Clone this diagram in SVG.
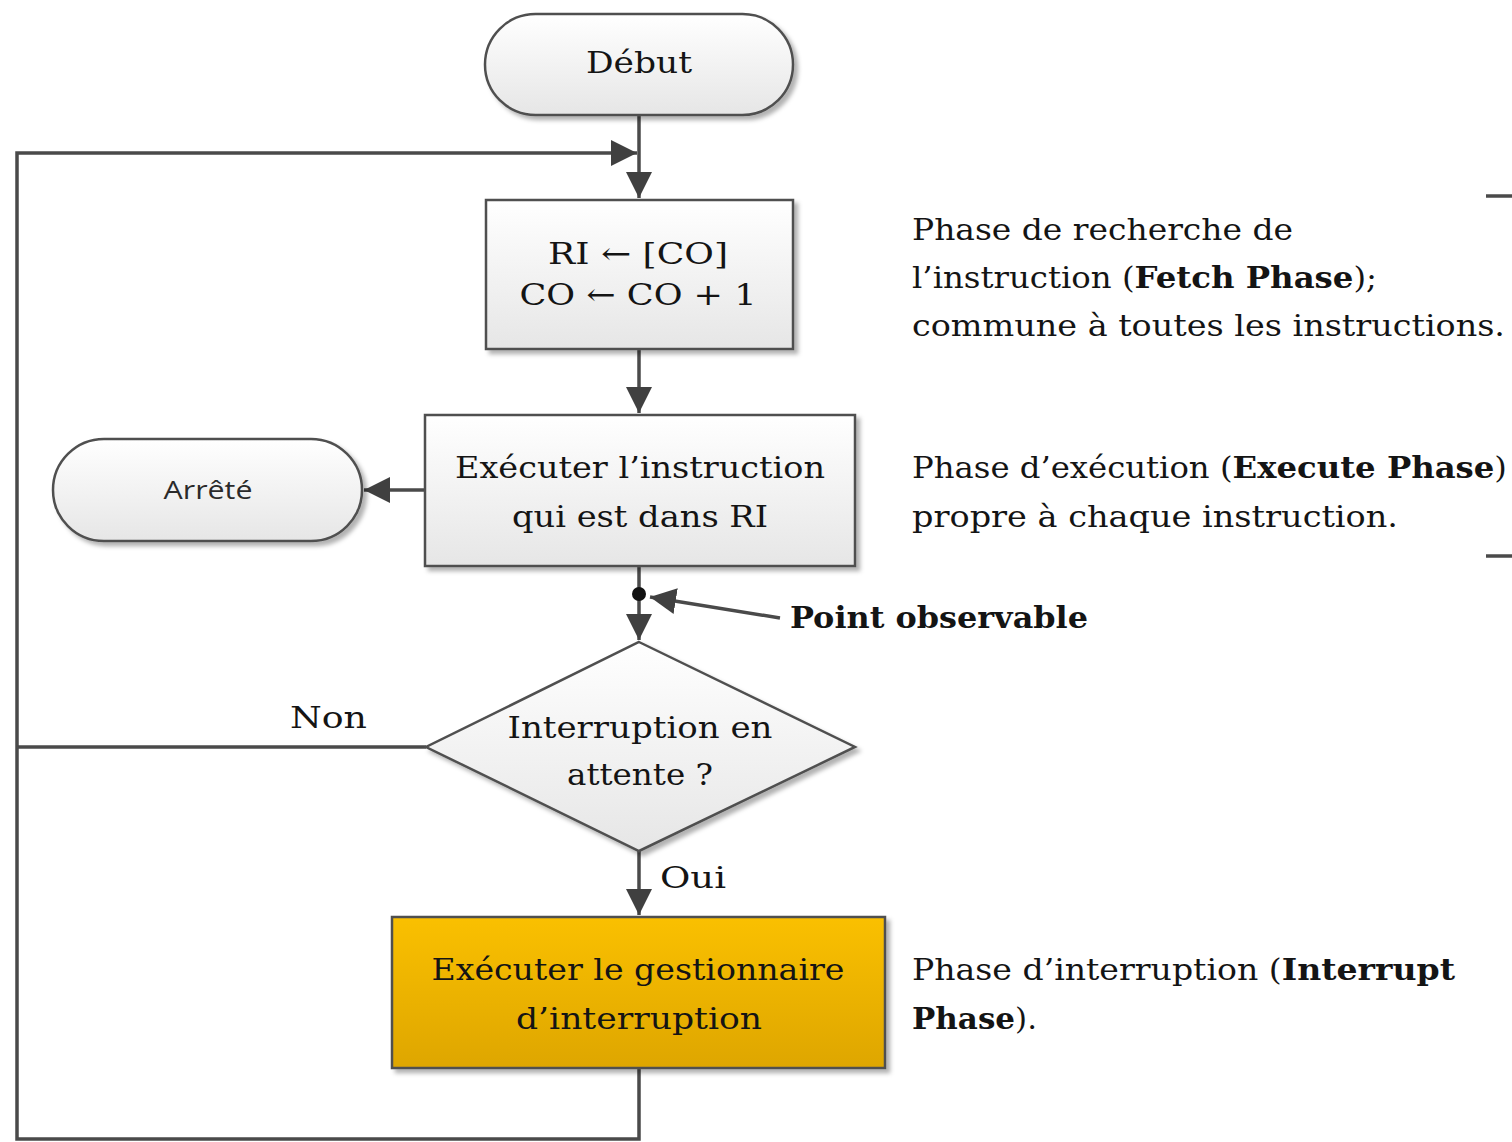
<svg xmlns="http://www.w3.org/2000/svg" width="1512" height="1142" viewBox="0 0 1512 1142">
  <defs>
    <linearGradient id="gGray" x1="0" y1="0" x2="0" y2="1">
      <stop offset="0" stop-color="#ffffff"/>
      <stop offset="1" stop-color="#e6e6e6"/>
    </linearGradient>
    <linearGradient id="gGold" x1="0" y1="0" x2="0" y2="1">
      <stop offset="0" stop-color="#fac000"/>
      <stop offset="1" stop-color="#dea600"/>
    </linearGradient>
    <filter id="shadow" x="-10%" y="-10%" width="130%" height="130%">
      <feDropShadow dx="4" dy="4" stdDeviation="2" flood-color="#000" flood-opacity="0.3"/>
    </filter>
    <marker id="arrowBig" viewBox="0 0 10 10" refX="10" refY="5" markerWidth="26" markerHeight="26" markerUnits="userSpaceOnUse" orient="auto">
      <path d="M0,0 L10,5 L0,10 z" fill="#404040"/>
    </marker>
  </defs>
  <style>
    .shape { stroke: #505050; stroke-width: 2.5; filter: url(#shadow); }
    .light { fill: url(#gGray); }
    .gold { fill: url(#gGold); }
    .conn { fill: none; stroke: #4a4a4a; stroke-width: 3.5; }
    .lbl { font-family: "DejaVu Serif", "Liberation Serif", serif; font-size: 30px; fill: #141414; }
    .ctr { text-anchor: middle; }
    .b { font-weight: bold; }
    .sans { font-family: "Open Sans", "DejaVu Sans", sans-serif; font-size: 25px; fill: #2a2a2a; }
  </style>

  <rect width="1512" height="1142" fill="#ffffff"/>

  <!-- connectors -->
  <g id="connectors">
    <path class="conn" d="M639,115 V198" marker-end="url(#arrowBig)"/>
    <path class="conn" d="M639,1068 V1139 H17 V153 H637" marker-end="url(#arrowBig)"/>
    <path class="conn" d="M639,349 V413" marker-end="url(#arrowBig)"/>
    <path class="conn" d="M425,490 H364" marker-end="url(#arrowBig)"/>
    <path class="conn" d="M639,566 V640" marker-end="url(#arrowBig)"/>
    <circle cx="639" cy="594" r="7" fill="#111"/>
    <path class="conn" d="M780,618 L650,597" marker-end="url(#arrowBig)"/>
    <path class="conn" d="M426,747 H17"/>
    <path class="conn" d="M639,851 V915" marker-end="url(#arrowBig)"/>
    <text class="lbl" x="290" y="728" textLength="77" lengthAdjust="spacingAndGlyphs">Non</text>
    <text class="lbl" x="660" y="888" textLength="66" lengthAdjust="spacingAndGlyphs">Oui</text>
  </g>

  <!-- start terminal -->
  <g id="debut">
    <rect class="shape light" x="485" y="14" width="308" height="101" rx="50.5" ry="50.5"/>
    <text class="lbl ctr" x="639" y="73" textLength="106" lengthAdjust="spacingAndGlyphs">Début</text>
  </g>

  <!-- fetch step -->
  <g id="fetch">
    <rect class="shape light" x="486" y="200" width="307" height="149"/>
    <text class="lbl ctr" x="638" y="264" textLength="180" lengthAdjust="spacingAndGlyphs">RI ← [CO]</text>
    <text class="lbl ctr" x="638" y="305" textLength="237" lengthAdjust="spacingAndGlyphs">CO ← CO + 1</text>
  </g>

  <!-- execute step -->
  <g id="execute">
    <rect class="shape light" x="425" y="415" width="430" height="151"/>
    <text class="lbl ctr" x="640" y="478" textLength="370" lengthAdjust="spacingAndGlyphs">Exécuter l’instruction</text>
    <text class="lbl ctr" x="640" y="527" textLength="256" lengthAdjust="spacingAndGlyphs">qui est dans RI</text>
  </g>

  <!-- stop terminal -->
  <g id="arrete">
    <rect class="shape light" x="53" y="439" width="309" height="102" rx="51" ry="51"/>
    <text class="sans ctr" x="208" y="499" textLength="89" lengthAdjust="spacingAndGlyphs">Arrêté</text>
  </g>

  <!-- observation point label -->
  <g id="point-observable">
    <text class="lbl b" x="790" y="628" textLength="298" lengthAdjust="spacingAndGlyphs">Point observable</text>
  </g>

  <!-- decision -->
  <g id="decision">
    <polygon class="shape light" points="639,642 855,747 639,851 426,747"/>
    <text class="lbl ctr" x="640" y="738" textLength="265" lengthAdjust="spacingAndGlyphs">Interruption en</text>
    <text class="lbl ctr" x="640" y="785" textLength="146" lengthAdjust="spacingAndGlyphs">attente ?</text>
  </g>

  <!-- interrupt handler -->
  <g id="handler">
    <rect class="shape gold" x="392" y="917" width="493" height="151"/>
    <text class="lbl ctr" x="638" y="980" textLength="413" lengthAdjust="spacingAndGlyphs">Exécuter le gestionnaire</text>
    <text class="lbl ctr" x="639" y="1029" textLength="246" lengthAdjust="spacingAndGlyphs">d’interruption</text>
  </g>

  <!-- phase annotations -->
  <g id="phase-fetch">
    <text class="lbl" x="912" y="240" textLength="381" lengthAdjust="spacingAndGlyphs">Phase de recherche de</text>
    <text class="lbl" x="912" y="288" textLength="465" lengthAdjust="spacingAndGlyphs">l’instruction (<tspan class="b">Fetch Phase</tspan>);</text>
    <text class="lbl" x="912" y="336" textLength="593" lengthAdjust="spacingAndGlyphs">commune à toutes les instructions.</text>
  </g>
  <g id="phase-execute">
    <text class="lbl" x="912" y="478" textLength="595" lengthAdjust="spacingAndGlyphs">Phase d’exécution (<tspan class="b">Execute Phase</tspan>)</text>
    <text class="lbl" x="912" y="527" textLength="486" lengthAdjust="spacingAndGlyphs">propre à chaque instruction.</text>
  </g>
  <g id="phase-interrupt">
    <text class="lbl" x="912" y="980" textLength="543" lengthAdjust="spacingAndGlyphs">Phase d’interruption (<tspan class="b">Interrupt</tspan></text>
    <text class="lbl" x="912" y="1029" textLength="125" lengthAdjust="spacingAndGlyphs"><tspan class="b">Phase</tspan>).</text>
  </g>

  <!-- bracket ends at the right margin -->
  <g id="bracket">
    <path class="conn" d="M1486,196 H1512"/>
    <path class="conn" d="M1486,556 H1512"/>
  </g>
</svg>
